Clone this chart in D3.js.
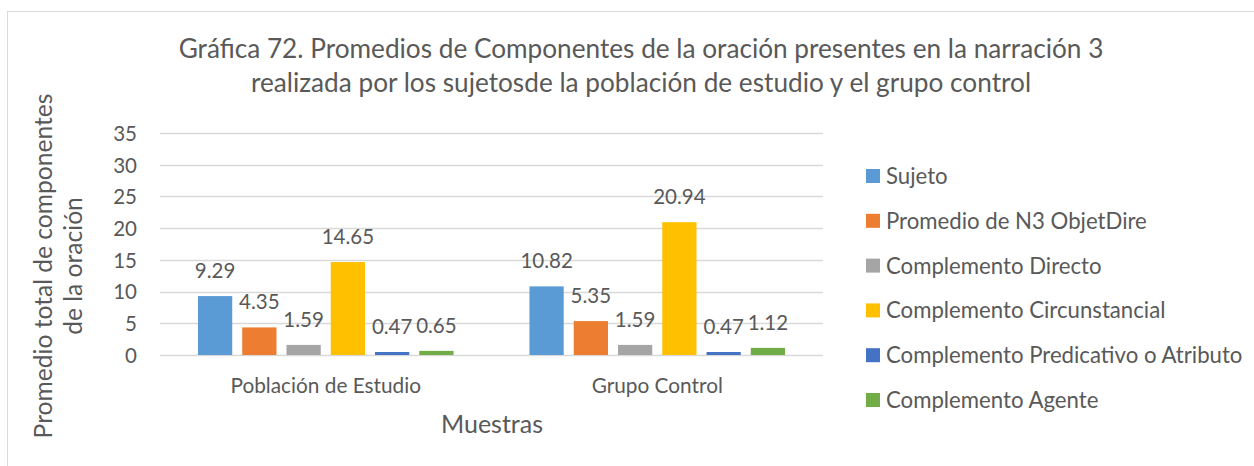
<!DOCTYPE html>
<html>
<head>
<meta charset="utf-8">
<script src="https://cdn.jsdelivr.net/npm/d3@7"></script>
<style>
  html, body { margin: 0; padding: 0; background: #fff; }
  svg text { font-family: "Lato", "Open Sans", sans-serif; fill: #595959; }
</style>
</head>
<body>
<svg id="chart" width="1254" height="466"></svg>
<script>
// Sample groups on the x axis
const categories = ["Población de Estudio", "Grupo Control"];

// Sentence components (legend order)
const seriesNames = [
  "Sujeto",
  "Promedio de N3 ObjetDire",
  "Complemento Directo",
  "Complemento Circunstancial",
  "Complemento Predicativo o Atributo",
  "Complemento Agente"
];

// Average per component, one entry per sample group
const sujeto = [9.29, 10.82];
const objetDire = [4.35, 5.35];
const complDirecto = [1.59, 1.59];
const complCircunstancial = [14.65, 20.94];
const complPredicativo = [0.47, 0.47];
const complAgente = [0.65, 1.12];

const yTicks = [0, 5, 10, 15, 20, 25, 30, 35];

const seriesColors = ["#5B9BD5", "#ED7D31", "#A5A5A5", "#FFC000", "#4472C4", "#70AD47"];

const seriesValues = [sujeto, objetDire, complDirecto, complCircunstancial, complPredicativo, complAgente];

const svg = d3.select("#chart");

// Chart frame
svg.append("rect")
  .attr("x", 7.5).attr("y", 11.5)
  .attr("width", 1260).attr("height", 470)
  .attr("fill", "#fff").attr("stroke", "#D9D9D9").attr("stroke-width", 1);

const plot = { left: 160, right: 823, top: 133, bottom: 355 };

const x0 = d3.scaleBand()
  .domain(categories)
  .range([plot.left, plot.right])
  .paddingInner(0.229)
  .paddingOuter(0.1145);

const x1 = d3.scaleBand()
  .domain(seriesNames)
  .range([0, x0.bandwidth()])
  .paddingInner(0.226)
  .paddingOuter(0);

const y = d3.scaleLinear().domain([0, 35]).range([plot.bottom, plot.top]);

// Horizontal gridlines
svg.append("g")
  .selectAll("line")
  .data(yTicks)
  .join("line")
  .attr("x1", plot.left).attr("x2", plot.right)
  .attr("y1", d => Math.round(y(d)) + 0.5).attr("y2", d => Math.round(y(d)) + 0.5)
  .attr("stroke", "#D9D9D9").attr("stroke-width", 1.5);

// Y axis tick labels
const yAxis = d3.axisLeft(y).tickValues(yTicks).tickSize(0).tickPadding(0);
const yAxisG = svg.append("g")
  .attr("transform", "translate(137,0)")
  .call(yAxis);
yAxisG.select(".domain").remove();
yAxisG.selectAll("text")
  .attr("font-size", 20.5)
  .attr("dy", "0.36em")
  .style("font-family", "Lato, 'Open Sans', sans-serif")
  .attr("fill", "#595959");

// Category labels under the plot
const xAxis = d3.axisBottom(x0).tickSize(0).tickPadding(0);
const xAxisG = svg.append("g")
  .attr("transform", `translate(0,${plot.bottom})`)
  .call(xAxis);
xAxisG.select(".domain").remove();
xAxisG.selectAll("text")
  .attr("font-size", 20.8)
  .attr("y", 38)
  .attr("dy", 0)
  .style("font-family", "Lato, 'Open Sans', sans-serif")
  .attr("fill", "#595959");

// Bars grouped by sample
const rows = categories.map((c, ci) => ({
  category: c,
  values: seriesNames.map((s, si) => ({ series: s, value: seriesValues[si][ci], color: seriesColors[si] }))
}));

const groups = svg.append("g")
  .selectAll("g")
  .data(rows)
  .join("g")
  .attr("transform", d => `translate(${x0(d.category)},0)`);

groups.selectAll("rect")
  .data(d => d.values)
  .join("rect")
  .attr("x", d => x1(d.series))
  .attr("width", x1.bandwidth())
  .attr("y", d => y(d.value))
  .attr("height", d => y(0) - y(d.value))
  .attr("fill", d => d.color);

// Value labels above each bar
groups.selectAll("text")
  .data(d => d.values)
  .join("text")
  .attr("x", d => x1(d.series) + x1.bandwidth() / 2)
  .attr("y", d => y(d.value) - 18)
  .attr("text-anchor", "middle")
  .attr("font-size", 20.5)
  .text(d => d.value.toFixed(2));

// Title
const title = svg.append("text")
  .attr("text-anchor", "middle")
  .attr("font-size", 26.2);
title.append("tspan").attr("x", 641).attr("y", 58)
  .text("Gráfica 72. Promedios de Componentes de la oración presentes en la narración 3");
title.append("tspan").attr("x", 641).attr("y", 92)
  .text("realizada por los sujetosde la población de estudio y el grupo control");

// Axis titles
svg.append("text")
  .attr("text-anchor", "middle")
  .attr("font-size", 25)
  .attr("x", 492).attr("y", 433)
  .text("Muestras");

const yTitle = svg.append("text")
  .attr("text-anchor", "middle")
  .attr("font-size", 24.6)
  .attr("transform", "translate(0,266) rotate(-90)");
yTitle.append("tspan").attr("x", 0).attr("y", 52).text("Promedio total de componentes");
yTitle.append("tspan").attr("x", 0).attr("y", 82).text("de la oración");

// Legend
const legend = svg.append("g")
  .selectAll("g")
  .data(seriesNames)
  .join("g")
  .attr("transform", (d, i) => `translate(866,${176 + i * 44.8})`);

legend.append("rect")
  .attr("x", 0).attr("y", -7)
  .attr("width", 14).attr("height", 14)
  .attr("fill", (d, i) => seriesColors[i]);

legend.append("text")
  .attr("x", 20).attr("y", 0)
  .attr("dy", "0.36em")
  .attr("font-size", 22.2)
  .text(d => d);
</script>
</body>
</html>
